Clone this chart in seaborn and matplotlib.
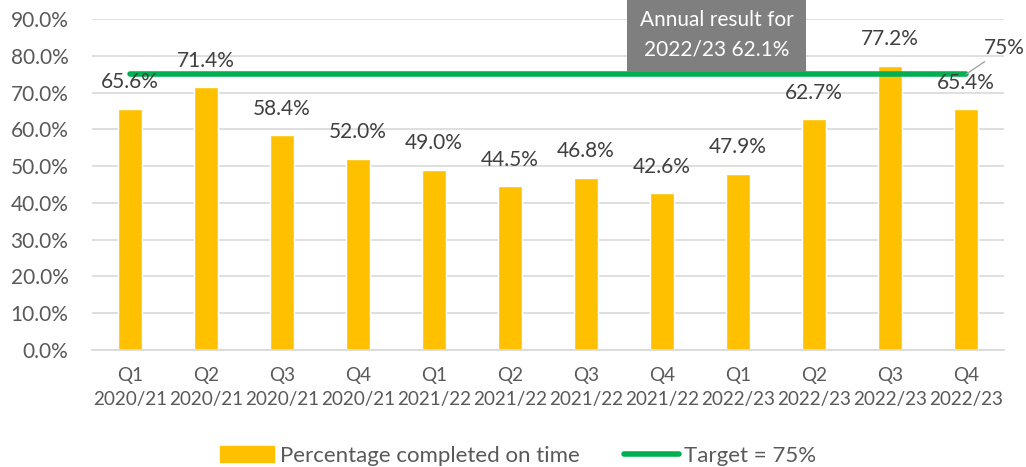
import matplotlib
matplotlib.use("Agg")
import matplotlib.pyplot as plt
import seaborn as sns
import pandas as pd
from matplotlib.ticker import FuncFormatter
from matplotlib.patches import Patch
from matplotlib.lines import Line2D

quarters = ["Q1\n2020/21", "Q2\n2020/21", "Q3\n2020/21", "Q4\n2020/21",
            "Q1\n2021/22", "Q2\n2021/22", "Q3\n2021/22", "Q4\n2021/22",
            "Q1\n2022/23", "Q2\n2022/23", "Q3\n2022/23", "Q4\n2022/23"]
pct_on_time = [65.6, 71.4, 58.4, 52.0, 49.0, 44.5, 46.8, 42.6, 47.9, 62.7, 77.2, 65.4]
target = [75] * 12
annotation_text = "Annual result for\n2022/23 62.1%"

sns.set_theme(style="white")
plt.rcParams['font.family'] = ['Lato', 'DejaVu Sans']
txt = "#595959"
fs = 15

fig = plt.figure(figsize=(10.26, 4.67), dpi=100)
ax = fig.add_axes([0.0897, 0.2505, 0.889, 0.7088])

df = pd.DataFrame({"q": quarters, "v": pct_on_time})
sns.barplot(data=df, x="q", y="v", color="#FFC000", saturation=1, width=0.31, ax=ax)
ax.plot(range(12), target, color="#00B050", lw=4, solid_capstyle="round", zorder=3)

ax.set_ylim(0, 90)
ax.set_xlim(-0.5, 11.5)
ax.set_yticks(range(0, 91, 10))
ax.yaxis.set_major_formatter(FuncFormatter(lambda v, p: f"{v:.1f}%"))
ax.grid(axis="y", color="#D9D9D9", lw=1.2)
ax.set_axisbelow(True)
for s in ["top", "right", "left"]:
    ax.spines[s].set_visible(False)
ax.spines["bottom"].set_color("#D9D9D9")
ax.set_xlabel("")
ax.set_ylabel("")
ax.tick_params(axis="both", colors=txt, length=0)
ax.tick_params(axis="y", pad=17, labelsize=fs)
ax.tick_params(axis="x", pad=12, labelsize=13.6)
for lab in ax.get_xticklabels():
    lab.set_linespacing(1.55)

for i, v in enumerate(pct_on_time):
    ax.annotate(f"{v:.1f}%", (i, v), xytext=(0, 12), textcoords="offset points",
                ha="center", va="bottom", fontsize=fs, color="#404040")

ax.annotate("75%", (11, 75), xytext=(11.5, 79.3), textcoords="data",
            ha="center", va="bottom", fontsize=fs, color="#404040",
            arrowprops=dict(arrowstyle="-", color="#A6A6A6", lw=1, shrinkA=0, shrinkB=0),
            annotation_clip=False)

ax.text(7.72, 85.8, annotation_text, ha="center", va="center", fontsize=fs, color="white",
        linespacing=1.6,
        bbox=dict(boxstyle="square,pad=0.6", fc="#7F7F7F", ec="none"), zorder=5)

handles = [Patch(color="#FFC000"), Line2D([0], [0], color="#00B050", lw=4, solid_capstyle="round")]
leg = fig.legend(handles, ["Percentage completed on time", "Target = 75%"], loc="lower center",
                 bbox_to_anchor=(0.505, -0.04), ncol=2, frameon=False, fontsize=16,
                 labelcolor=txt, handlelength=2.45, handleheight=0.75, columnspacing=2.0,
                 handletextpad=0.25)

fig.savefig("out.png", dpi=100)
